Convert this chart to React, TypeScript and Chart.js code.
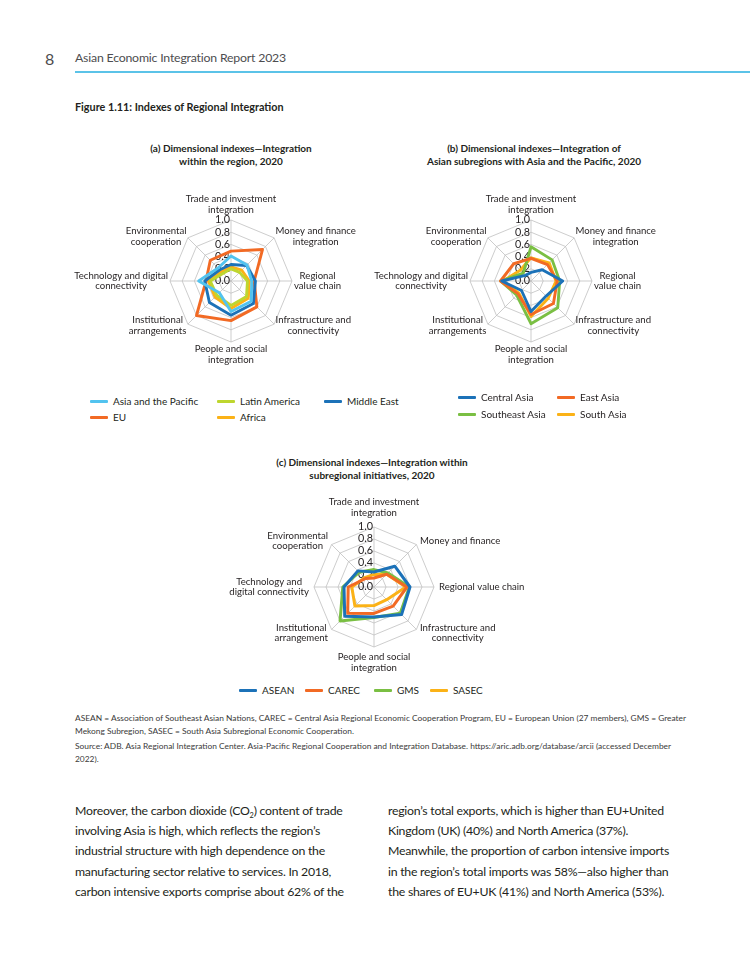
import React, { useEffect, useRef } from 'react';
import { Chart, registerables } from 'chart.js';
Chart.register(...registerables);

const FONT = "Lato, 'Open Sans', sans-serif";

// ---------- data ----------
const axesAB: string[][] = [
  ['Trade and investment', 'integration'],
  ['Money and finance', 'integration'],
  ['Regional', 'value chain'],
  ['Infrastructure and', 'connectivity'],
  ['People and social', 'integration'],
  ['Institutional', 'arrangements'],
  ['Technology and digital', 'connectivity'],
  ['Environmental', 'cooperation'],
];
const axesC: string[][] = [
  ['Trade and investment', 'integration'],
  ['Money and finance'],
  ['Regional value chain'],
  ['Infrastructure and', 'connectivity'],
  ['People and social', 'integration'],
  ['Institutional', 'arrangement'],
  ['Technology and', 'digital connectivity'],
  ['Environmental', 'cooperation'],
];
const tickValues = [0, 0.2, 0.4, 0.6, 0.8, 1.0];

// (a) within the region
const asiaPacific = [0.41, 0.37, 0.34, 0.47, 0.5, 0.27, 0.53, 0.3];
const latinAmerica = [0.2, 0.2, 0.27, 0.36, 0.4, 0.33, 0.34, 0.18];
const middleEast = [0.27, 0.36, 0.4, 0.52, 0.56, 0.5, 0.43, 0.26];
const eu = [0.49, 0.73, 0.38, 0.6, 0.65, 0.8, 0.41, 0.48];
const africa = [0.23, 0.25, 0.3, 0.4, 0.45, 0.37, 0.37, 0.22];

// (b) subregions with Asia and the Pacific
const centralAsia = [0.14, 0.26, 0.52, 0.35, 0.5, 0.22, 0.48, 0.13];
const eastAsia = [0.37, 0.38, 0.43, 0.52, 0.55, 0.3, 0.5, 0.4];
const southeastAsia = [0.56, 0.49, 0.47, 0.62, 0.7, 0.33, 0.5, 0.18];
const southAsia = [0.38, 0.42, 0.41, 0.4, 0.58, 0.28, 0.46, 0.25];

// (c) subregional initiatives
const asean = [0.25, 0.49, 0.6, 0.65, 0.5, 0.69, 0.5, 0.38];
const carec = [0.15, 0.3, 0.55, 0.45, 0.44, 0.62, 0.43, 0.2];
const gms = [0.29, 0.33, 0.59, 0.62, 0.51, 0.8, 0.52, 0.35];
const sasec = [0.21, 0.3, 0.53, 0.3, 0.31, 0.45, 0.37, 0.22];

const BLUE = '#1c72b8';
const LIGHTBLUE = '#52c3ef';
const ORANGE = '#f26a24';
const LIME = '#bed62f';
const YELLOW = '#fbb217';
const GREEN = '#7abf43';

type Series = { name: string; color: string; data: number[] };

const seriesA: Series[] = [
  { name: 'Asia and the Pacific', color: LIGHTBLUE, data: asiaPacific },
  { name: 'Latin America', color: LIME, data: latinAmerica },
  { name: 'Middle East', color: BLUE, data: middleEast },
  { name: 'EU', color: ORANGE, data: eu },
  { name: 'Africa', color: YELLOW, data: africa },
];
const seriesB: Series[] = [
  { name: 'Central Asia', color: BLUE, data: centralAsia },
  { name: 'East Asia', color: ORANGE, data: eastAsia },
  { name: 'Southeast Asia', color: GREEN, data: southeastAsia },
  { name: 'South Asia', color: YELLOW, data: southAsia },
];
const seriesC: Series[] = [
  { name: 'ASEAN', color: BLUE, data: asean },
  { name: 'CAREC', color: ORANGE, data: carec },
  { name: 'GMS', color: GREEN, data: gms },
  { name: 'SASEC', color: YELLOW, data: sasec },
];

// ---------- plugin: tick labels and point labels ----------
const radarText = {
  id: 'radarText',
  beforeDatasetsDraw(chart: any, _args: any, opts: any) {
    const r = chart.scales.r;
    const ctx = chart.ctx as CanvasRenderingContext2D;
    ctx.save();
    ctx.fillStyle = '#231f20';
    ctx.font = `${opts.tickSize}px ${FONT}`;
    ctx.textAlign = 'right';
    ctx.textBaseline = 'middle';
    tickValues.forEach((v) => {
      const d = r.getDistanceFromCenterForValue(v);
      ctx.fillText(v.toFixed(1), r.xCenter - 1, r.yCenter - d);
    });
    ctx.restore();
  },
  afterDraw(chart: any, _args: any, opts: any) {
    const r = chart.scales.r;
    const ctx = chart.ctx as CanvasRenderingContext2D;
    const labels = chart.data.labels as string[][];
    ctx.save();
    ctx.fillStyle = '#231f20';
    ctx.font = `${opts.labelSize}px ${FONT}`;
    ctx.textAlign = 'center';
    ctx.textBaseline = 'middle';
    const lh = opts.lineHeight;
    labels.forEach((lines, i) => {
      const top0 = i === 0;
      const pad = top0 ? opts.topPad : opts.pad;
      const p = r.getPointPosition(i, r.drawingArea + pad);
      const cos = Math.cos(p.angle);
      const sin = Math.sin(p.angle);
      const w = Math.max(...lines.map((l) => ctx.measureText(l).width));
      const h = lines.length * lh;
      let cx: number;
      let top: number;
      if (Math.abs(cos) < 0.1) {
        cx = p.x;
        top = sin < 0 ? p.y - h : p.y;
      } else {
        cx = cos > 0 ? p.x + w / 2 : p.x - w / 2;
        top = p.y - h / 2;
      }
      lines.forEach((l, k) => ctx.fillText(l, cx, top + lh * (k + 0.5)));
    });
    ctx.restore();
  },
};

type RadarProps = {
  labels: string[][];
  series: Series[];
  left: number;
  top: number;
  width: number;
  height: number;
  cx: number;
  cy: number;
  radius: number;
  lineWidth: number;
  pad: number;
  topPad: number;
};

function Radar(p: RadarProps) {
  const ref = useRef<HTMLCanvasElement | null>(null);
  useEffect(() => {
    if (!ref.current) return;
    const lx = p.cx - p.left;
    const ly = p.cy - p.top;
    const chart = new Chart(ref.current, {
      type: 'radar',
      data: {
        labels: p.labels,
        datasets: p.series.map((s) => ({
          label: s.name,
          data: s.data,
          borderColor: s.color,
          backgroundColor: s.color,
          borderWidth: p.lineWidth,
          pointRadius: 0,
          pointHoverRadius: 0,
          fill: false,
          tension: 0,
          borderJoinStyle: 'round' as const,
        })),
      },
      options: {
        responsive: false,
        animation: false,
        devicePixelRatio: 1,
        layout: {
          padding: {
            left: lx - p.radius,
            top: ly - p.radius,
            right: p.width - lx - p.radius,
            bottom: p.height - ly - p.radius,
          },
        },
        plugins: {
          legend: { display: false },
          tooltip: { enabled: false },
          radarText: { tickSize: 10.8, labelSize: 9.6, lineHeight: 10.4, pad: p.pad, topPad: p.topPad },
        } as any,
        scales: {
          r: {
            min: 0,
            max: 1,
            ticks: { display: false, stepSize: 0.2 },
            pointLabels: { display: false },
            grid: { color: '#c0c0c0', lineWidth: 0.8 },
            angleLines: { color: '#c0c0c0', lineWidth: 0.8 },
          },
        },
      },
      plugins: [radarText],
    });
    return () => chart.destroy();
  }, []);
  return (
    <canvas
      ref={ref}
      width={p.width}
      height={p.height}
      style={{ position: 'absolute', left: p.left, top: p.top, width: p.width, height: p.height }}
    />
  );
}

function T(props: {
  x: number;
  y: number;
  size: number;
  lh?: number;
  weight?: number;
  color?: string;
  center?: boolean;
  ls?: number;
  children: React.ReactNode;
}) {
  const lh = props.lh ?? Math.round(props.size * 1.3);
  return (
    <div
      style={{
        position: 'absolute',
        left: props.x,
        top: props.y - lh / 2,
        lineHeight: `${lh}px`,
        fontSize: props.size,
        fontWeight: props.weight ?? 400,
        color: props.color ?? '#231f20',
        whiteSpace: 'nowrap',
        letterSpacing: props.ls ? `${props.ls}px` : undefined,
        transform: props.center ? 'translateX(-50%)' : undefined,
      }}
    >
      {props.children}
    </div>
  );
}

function Legend(props: { items: Series[]; x: number; y: number; cols: number[]; rowH: number; size: number }) {
  return (
    <div
      style={{
        position: 'absolute',
        left: props.x,
        top: props.y - props.rowH / 2,
        display: 'grid',
        gridTemplateColumns: props.cols.map((c) => `${c}px`).join(' '),
        gridAutoRows: `${props.rowH}px`,
        fontSize: props.size,
        color: '#231f20',
      }}
    >
      {props.items.map((s) => (
        <div key={s.name} style={{ display: 'flex', alignItems: 'center', whiteSpace: 'nowrap' }}>
          <span style={{ display: 'inline-block', width: 18, height: 3, background: s.color, marginRight: 5, borderRadius: 1 }} />
          <span>{s.name}</span>
        </div>
      ))}
    </div>
  );
}

const bodyLeft = [
  <>Moreover, the carbon dioxide (CO<sub style={{ fontSize: '0.6em', lineHeight: 0 }}>2</sub>) content of trade</>,
  <>involving Asia is high, which reflects the region’s</>,
  <>industrial structure with high dependence on the</>,
  <>manufacturing sector relative to services. In 2018,</>,
  <>carbon intensive exports comprise about 62% of the</>,
];
const bodyRight = [
  'region’s total exports, which is higher than EU+United',
  'Kingdom (UK) (40%) and North America (37%).',
  'Meanwhile, the proportion of carbon intensive imports',
  'in the region’s total imports was 58%—also higher than',
  'the shares of EU+UK (41%) and North America (53%).',
];
const notes = [
  'ASEAN = Association of Southeast Asian Nations, CAREC = Central Asia Regional Economic Cooperation Program, EU = European Union (27 members), GMS = Greater',
  'Mekong Subregion, SASEC = South Asia Subregional Economic Cooperation.',
];
const source = [
  'Source: ADB. Asia Regional Integration Center. Asia-Pacific Regional Cooperation and Integration Database. https://aric.adb.org/database/arcii (accessed December',
  '2022).',
];

export default function App() {
  return (
    <div
      style={{
        position: 'absolute',
        left: 0,
        top: 0,
        width: 750,
        height: 971,
        background: '#fff',
        fontFamily: FONT,
        overflow: 'hidden',
      }}
    >
      <T x={45} y={58} size={16} color="#4d4d4f">8</T>
      <T x={75} y={58} size={12.3} ls={-0.2} color="#4d4d4f">Asian Economic Integration Report 2023</T>
      <div style={{ position: 'absolute', left: 75, top: 71, width: 675, height: 1.5, background: '#5bc3e8' }} />
      <T x={75} y={107} size={10.8} weight={700}>Figure 1.11: Indexes of Regional Integration</T>

      <T x={231} y={148} size={10} weight={700} center>(a) Dimensional indexes—Integration</T>
      <T x={231} y={161} size={10} weight={700} center>within the region, 2020</T>
      <T x={534} y={148} size={10} weight={700} center>(b) Dimensional indexes—Integration of</T>
      <T x={534} y={161} size={10} weight={700} center>Asian subregions with Asia and the Pacific, 2020</T>

      <Radar labels={axesAB} series={seriesA} left={60} top={185} width={330} height={200} cx={231} cy={281} radius={61} lineWidth={2.9} pad={2} topPad={5} />
      <Radar labels={axesAB} series={seriesB} left={370} top={185} width={330} height={200} cx={531} cy={281} radius={61} lineWidth={2.9} pad={2} topPad={5} />

      <Legend items={seriesA} x={90} y={401} cols={[127, 107, 110]} rowH={16} size={10} />
      <Legend items={seriesB} x={458} y={397} cols={[99, 100]} rowH={17} size={10} />

      <T x={372} y={462} size={10} weight={700} center>(c) Dimensional indexes—Integration within</T>
      <T x={372} y={475} size={10} weight={700} center>subregional initiatives, 2020</T>

      <Radar labels={axesC} series={seriesC} left={210} top={490} width={340} height={185} cx={374} cy={587} radius={60} lineWidth={3} pad={5} topPad={9} />

      <Legend items={seriesC} x={239} y={690} cols={[66, 69, 56, 70]} rowH={16} size={10} />

      {notes.map((n, i) => (
        <T key={'n' + i} x={75} y={718 + i * 13} size={8.4} lh={13} color="#3a3a3a">{n}</T>
      ))}
      {source.map((n, i) => (
        <T key={'s' + i} x={75} y={746 + i * 13} size={8.4} lh={13} color="#3a3a3a">{n}</T>
      ))}

      {bodyLeft.map((n, i) => (
        <T key={'l' + i} x={75} y={811 + i * 20.2} size={12.3} ls={-0.25} lh={20} color="#231f20">{n}</T>
      ))}
      {bodyRight.map((n, i) => (
        <T key={'r' + i} x={388} y={811 + i * 20.2} size={12.3} ls={-0.25} lh={20} color="#231f20">{n}</T>
      ))}
    </div>
  );
}
